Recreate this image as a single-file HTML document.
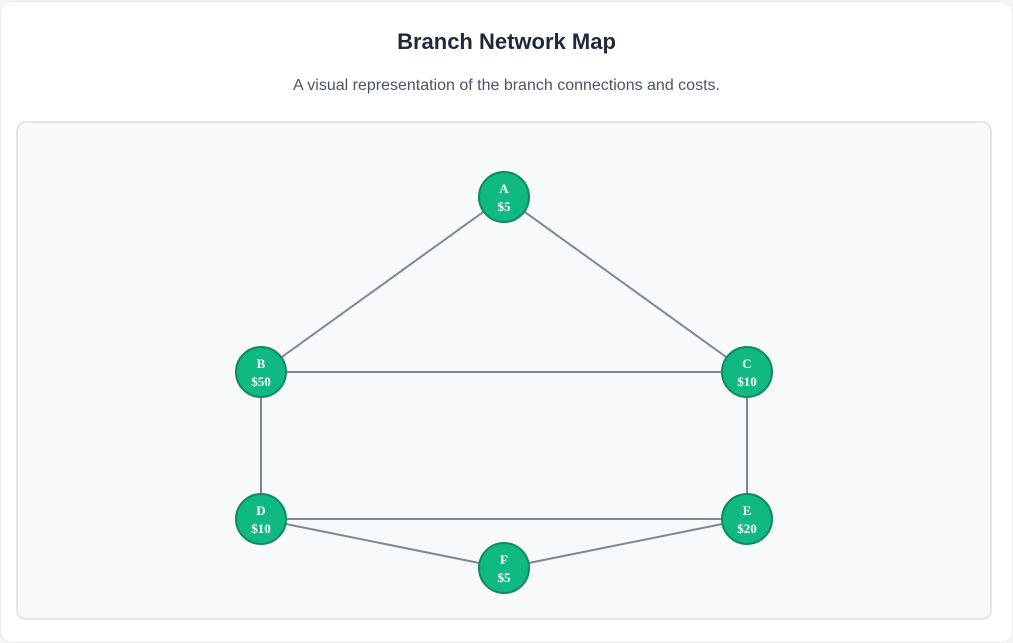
<!DOCTYPE html>
<html><head><style>
html,body{margin:0;padding:0;background:#f3f4f6;width:1013px;height:633px;overflow:hidden}
.card{position:absolute;left:0;top:1px;width:1011px;height:640px;background:#fff;border:1px solid #ececec;border-radius:12px}
h1{position:absolute;left:0;width:1013px;top:29px;margin:0;text-align:center;font:bold 22px "Liberation Sans",sans-serif;color:#1f2937}
p{position:absolute;left:0;width:1013px;top:77px;margin:0;text-align:center;font:16px "Liberation Sans",sans-serif;color:#4b5563}
svg{position:absolute;left:0;top:0}
</style></head><body>
<div class="card"></div>
<h1>Branch Network Map</h1>
<p>A visual representation of the branch connections and costs.</p>
<svg width="1013" height="633">
<rect x="17" y="122" width="974" height="497" rx="9" fill="#f8f9fb" stroke="#e3e5e8" stroke-width="2"/>
<g stroke="#6b7280" stroke-width="2" stroke-opacity="0.85">
<line x1="504" y1="197" x2="261" y2="372"/>
<line x1="504" y1="197" x2="747" y2="372"/>
<line x1="261" y1="372" x2="747" y2="372"/>
<line x1="261" y1="372" x2="261" y2="519"/>
<line x1="747" y1="372" x2="747" y2="519"/>
<line x1="261" y1="519" x2="747" y2="519"/>
<line x1="261" y1="519" x2="504" y2="568"/>
<line x1="747" y1="519" x2="504" y2="568"/>
</g>
<g fill="#10b981" stroke="#0e8a5e" stroke-width="2">
<circle cx="504" cy="197" r="25"/><circle cx="261" cy="372" r="25"/><circle cx="747" cy="372" r="25"/>
<circle cx="261" cy="519" r="25"/><circle cx="747" cy="519" r="25"/><circle cx="504" cy="568" r="25"/>
</g>
<g fill="#fff" font-family="Liberation Serif,serif" font-size="13" font-weight="bold" text-anchor="middle">
<text x="504" y="193">A</text><text x="504" y="211">$5</text>
<text x="261" y="368">B</text><text x="261" y="386">$50</text>
<text x="747" y="368">C</text><text x="747" y="386">$10</text>
<text x="261" y="515">D</text><text x="261" y="533">$10</text>
<text x="747" y="515">E</text><text x="747" y="533">$20</text>
<text x="504" y="564">F</text><text x="504" y="582">$5</text>
</g>
</svg>
</body></html>
